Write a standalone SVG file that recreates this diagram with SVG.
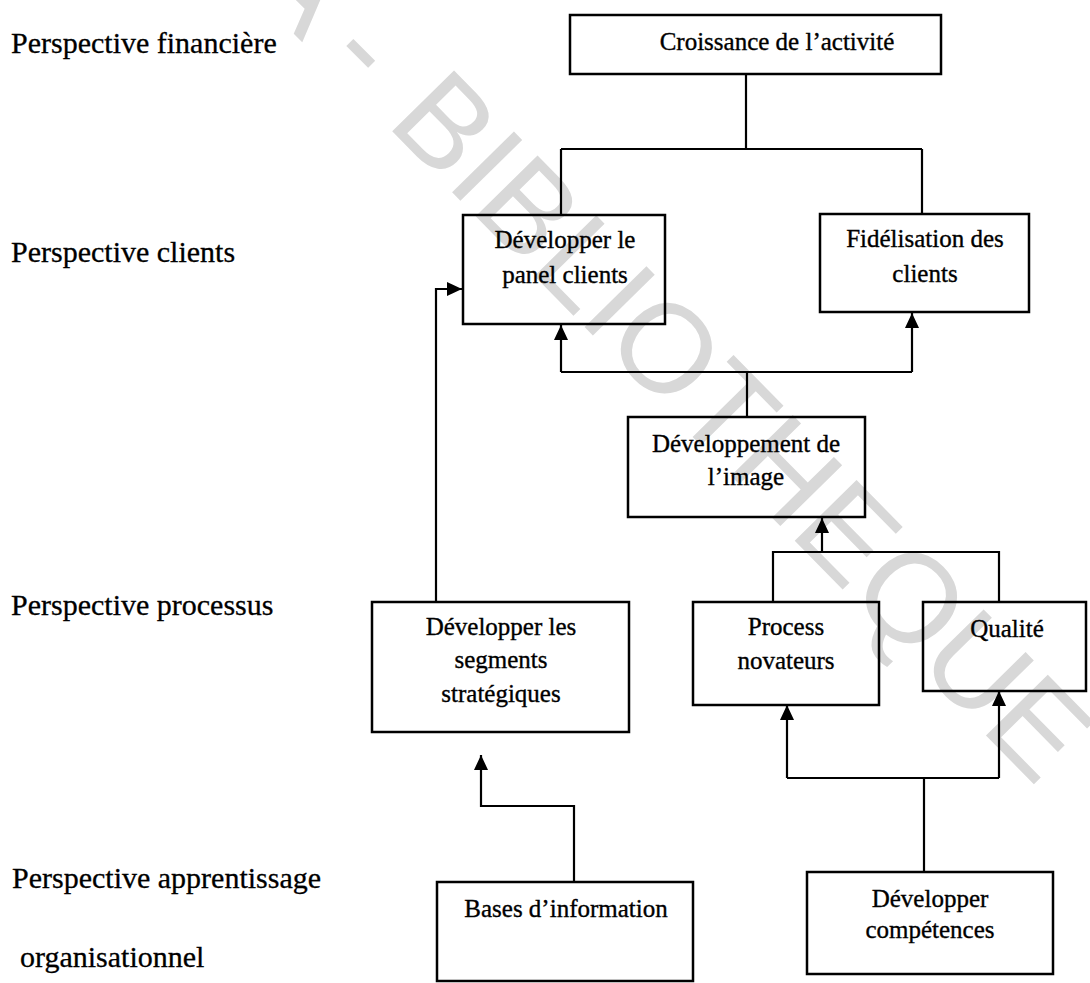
<svg xmlns="http://www.w3.org/2000/svg" width="1090" height="983" viewBox="0 0 1090 983">
  <style>
    .box { fill: none; stroke: #000; stroke-width: 2.5; }
    .t { font-family: "Liberation Serif", "Times New Roman", serif; font-size: 25px; fill: #000; stroke: #000; stroke-width: 0.35; text-anchor: middle; }
    .lbl { font-family: "Liberation Serif", "Times New Roman", serif; font-size: 30px; fill: #000; stroke: #000; stroke-width: 0.3; }
    .wire { fill: none; stroke: #000; stroke-width: 2.2; }
    .wm { font-family: "Liberation Sans", Arial, sans-serif; font-size: 126px; fill: #d8d8d8; }
  </style>
  <defs>
    <marker id="arrow" markerUnits="userSpaceOnUse" markerWidth="16" markerHeight="16" viewBox="0 0 16 16" refX="15" refY="8" orient="auto">
      <path d="M0,1 L15,8 L0,15 Z" fill="#000"/>
    </marker>
  </defs>
  <rect width="1090" height="983" fill="#fff"/>

  <!-- library stamp across the page -->
  <g id="stamp">
    <text class="wm" text-anchor="end" transform="translate(352,92) rotate(45)">CODESRIA -</text>
    <text class="wm" transform="translate(385,124) rotate(45.5)">BIBLIOTHEQUE</text>
  </g>

  <!-- perspective labels -->
  <g id="labels">
    <text class="lbl" x="11" y="53">Perspective financière</text>
    <text class="lbl" x="11" y="262">Perspective clients</text>
    <text class="lbl" x="11" y="615">Perspective processus</text>
    <text class="lbl" x="12" y="888">Perspective apprentissage</text>
    <text class="lbl" x="20" y="967">organisationnel</text>
  </g>

  <!-- connectors -->
  <g id="connectors">
    <!-- growth splits to both client objectives -->
    <path class="wire" d="M746,74 V149 M561,149 H922 M561,149 V215 M922,149 V214"/>
    <!-- image feeds both client objectives -->
    <path class="wire" d="M747,417 V372 M561,372 H912"/>
    <path class="wire" d="M561,372 V325" marker-end="url(#arrow)"/>
    <path class="wire" d="M912,372 V313" marker-end="url(#arrow)"/>
    <!-- processes feed the image -->
    <path class="wire" d="M773,602 V552 H999 V602"/>
    <path class="wire" d="M822,552 V518" marker-end="url(#arrow)"/>
    <!-- skills feed both processes -->
    <path class="wire" d="M924,872 V778 M787,778 H999"/>
    <path class="wire" d="M787,778 V705" marker-end="url(#arrow)"/>
    <path class="wire" d="M999,778 V691" marker-end="url(#arrow)"/>
    <!-- information bases toward strategic segments -->
    <path class="wire" d="M574,882 V806 H481 V755" marker-end="url(#arrow)"/>
    <!-- strategic segments toward client panel -->
    <path class="wire" d="M436,602 V289 H462" marker-end="url(#arrow)"/>
  </g>

  <g id="croissance">
    <rect class="box" x="570" y="15" width="371" height="59"/>
    <text class="t" x="777" y="50">Croissance de l’activité</text>
  </g>

  <g id="panel-clients">
    <rect class="box" x="463" y="215" width="202" height="109"/>
    <text class="t" x="565" y="248">Développer le</text>
    <text class="t" x="565" y="283">panel clients</text>
  </g>

  <g id="fidelisation">
    <rect class="box" x="820" y="214" width="209" height="98"/>
    <text class="t" x="925" y="247">Fidélisation des</text>
    <text class="t" x="925" y="282">clients</text>
  </g>

  <g id="image">
    <rect class="box" x="628" y="417" width="237" height="100"/>
    <text class="t" x="746" y="452">Développement de</text>
    <text class="t" x="746" y="485">l’image</text>
  </g>

  <g id="segments">
    <rect class="box" x="372" y="602" width="257" height="130"/>
    <text class="t" x="501" y="635">Développer les</text>
    <text class="t" x="501" y="668">segments</text>
    <text class="t" x="501" y="702">stratégiques</text>
  </g>

  <g id="process">
    <rect class="box" x="693" y="602" width="186" height="103"/>
    <text class="t" x="786" y="635">Process</text>
    <text class="t" x="786" y="669">novateurs</text>
  </g>

  <g id="qualite">
    <rect class="box" x="923" y="602" width="163" height="89"/>
    <text class="t" x="1007" y="637">Qualité</text>
  </g>

  <g id="bases">
    <rect class="box" x="437" y="882" width="256" height="99"/>
    <text class="t" x="566" y="917">Bases d’information</text>
  </g>

  <g id="competences">
    <rect class="box" x="807" y="872" width="246" height="102"/>
    <text class="t" x="930" y="907">Développer</text>
    <text class="t" x="930" y="938">compétences</text>
  </g>
</svg>
